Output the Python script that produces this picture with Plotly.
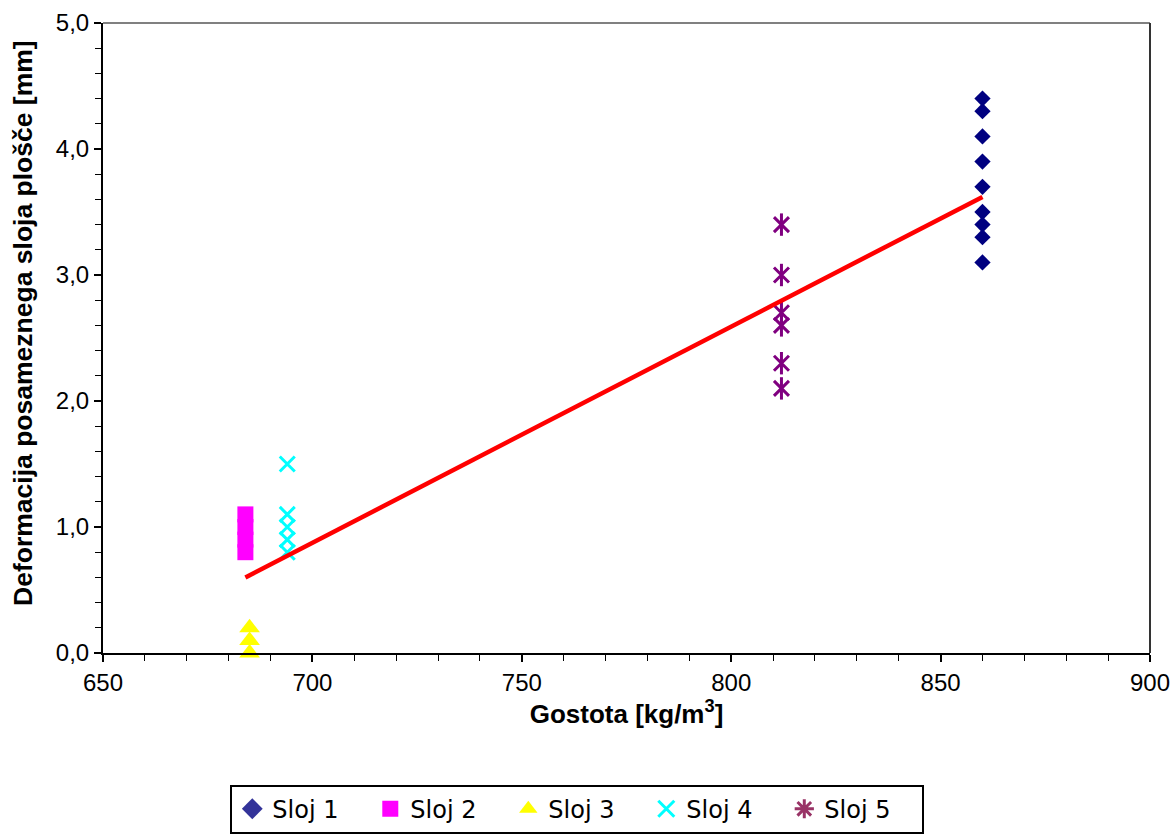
import plotly.graph_objects as go

# ---- data ----
sloj1_x = [860, 860, 860, 860, 860, 860, 860, 860, 860]
sloj1_y = [4.4, 4.3, 4.1, 3.9, 3.7, 3.5, 3.4, 3.3, 3.1]

sloj2_x = [684, 684, 684, 684]
sloj2_y = [1.1, 1.0, 0.9, 0.8]

sloj3_x = [685, 685, 685]
sloj3_y = [0.2, 0.1, 0.0]

sloj4_x = [694, 694, 694, 694, 694]
sloj4_y = [1.5, 1.1, 1.0, 0.9, 0.8]

sloj5_x = [812, 812, 812, 812, 812, 812]
sloj5_y = [3.4, 3.0, 2.7, 2.6, 2.3, 2.1]

trend_x = [684, 860]
trend_y = [0.60, 3.62]

series_names = ["Sloj 1", "Sloj 2", "Sloj 3", "Sloj 4", "Sloj 5"]
legend_colors = ["#333399", "#FF00FF", "#FFFF00", "#00FFFF", "#993366"]
legend_symbols = ["diamond", "square", "triangle-up", "x-thin-open", "asterisk-open"]

x_title = "<b>Gostota [kg/m<sup>3</sup>]</b>"
y_title = "<b>Deformacija posameznega sloja plošče [mm]</b>"

fig = go.Figure()

# data marks (not in legend)
fig.add_trace(go.Scatter(x=sloj1_x, y=sloj1_y, mode="markers", showlegend=False, cliponaxis=False,
                         marker=dict(symbol="diamond", size=12.5, color="#000080", line=dict(width=0))))
fig.add_trace(go.Scatter(x=sloj2_x, y=sloj2_y, mode="markers", showlegend=False, cliponaxis=False,
                         marker=dict(symbol="square", size=16, color="#FF00FF", line=dict(width=0))))
fig.add_trace(go.Scatter(x=sloj3_x, y=sloj3_y, mode="markers", showlegend=False, cliponaxis=False,
                         marker=dict(symbol="triangle-up", size=18, color="#FFFF00", line=dict(width=0))))
fig.add_trace(go.Scatter(x=sloj4_x, y=sloj4_y, mode="markers", showlegend=False, cliponaxis=False,
                         marker=dict(symbol="x-thin-open", size=15, color="#00FFFF",
                                     line=dict(width=3, color="#00FFFF"))))
fig.add_trace(go.Scatter(x=sloj5_x, y=sloj5_y, mode="markers", showlegend=False, cliponaxis=False,
                         marker=dict(symbol="x-thin-open", size=15, color="#800080",
                                     line=dict(width=3, color="#800080"))))
fig.add_trace(go.Scatter(x=sloj5_x, y=sloj5_y, mode="markers", showlegend=False, cliponaxis=False,
                         marker=dict(symbol="line-ns-open", size=16, color="#800080",
                                     line=dict(width=3, color="#800080"))))

# trend line
fig.add_trace(go.Scatter(x=trend_x, y=trend_y, mode="lines", showlegend=False,
                         line=dict(color="#FF0000", width=4.5)))

# legend entries
for name, col, sym in zip(series_names, legend_colors, legend_symbols):
    open_sym = sym.endswith("open")
    fig.add_trace(go.Scatter(x=[None], y=[None], mode="markers", name=name,
                             marker=dict(symbol=sym, size=16, color=col,
                                         line=dict(width=3 if open_sym else 0, color=col))))

fig.update_layout(
    width=1174, height=837,
    margin=dict(l=103, r=24, t=23, b=184, autoexpand=False),
    paper_bgcolor="white", plot_bgcolor="white",
    separators=", ",
    font=dict(family="Liberation Sans, Arial, sans-serif", size=24, color="black"),
    showlegend=True,
    legend=dict(orientation="h", x=0.453, xanchor="center", y=-0.209, yanchor="top",
                bordercolor="black", borderwidth=2, bgcolor="white",
                font=dict(family="DejaVu Sans", size=24, color="black"),
                entrywidth=93, entrywidthmode="pixels", itemsizing="trace"),
    shapes=[
        dict(type="line", xref="paper", yref="paper", x0=0, x1=1, y0=1, y1=1,
             line=dict(color="#808080", width=2)),
        dict(type="line", xref="paper", yref="paper", x0=1, x1=1, y0=0, y1=1,
             line=dict(color="#333333", width=2)),
    ],
    annotations=[
        dict(text=y_title, xref="paper", yref="paper", x=-0.0764, y=0.524,
             xanchor="center", yanchor="middle", textangle=-90, showarrow=False,
             font=dict(family="Liberation Sans, Arial", size=26.5, color="black")),
    ],
)

fig.update_xaxes(
    range=[650, 900], dtick=50, tick0=650, showgrid=False, zeroline=False,
    showline=True, linecolor="black", linewidth=2,
    ticks="outside", ticklen=7, tickwidth=1.5, tickcolor="black",
    minor=dict(dtick=10, ticks="outside", ticklen=6, tickwidth=1.2, tickcolor="black", showgrid=False),
    tickfont=dict(family="Liberation Sans, Arial", size=24),
    title=dict(text=x_title, font=dict(family="Liberation Sans, Arial", size=26), standoff=10),
)
fig.update_yaxes(
    range=[0, 5], dtick=1, tick0=0, tickformat=".1f", showgrid=False, zeroline=False,
    showline=True, linecolor="black", linewidth=2,
    ticks="outside", ticklen=7, tickwidth=1.5, tickcolor="black",
    minor=dict(dtick=0.2, ticks="outside", ticklen=6, tickwidth=1.2, tickcolor="black", showgrid=False),
    tickfont=dict(family="Liberation Sans, Arial", size=24),
)

fig.write_html("out.html")
